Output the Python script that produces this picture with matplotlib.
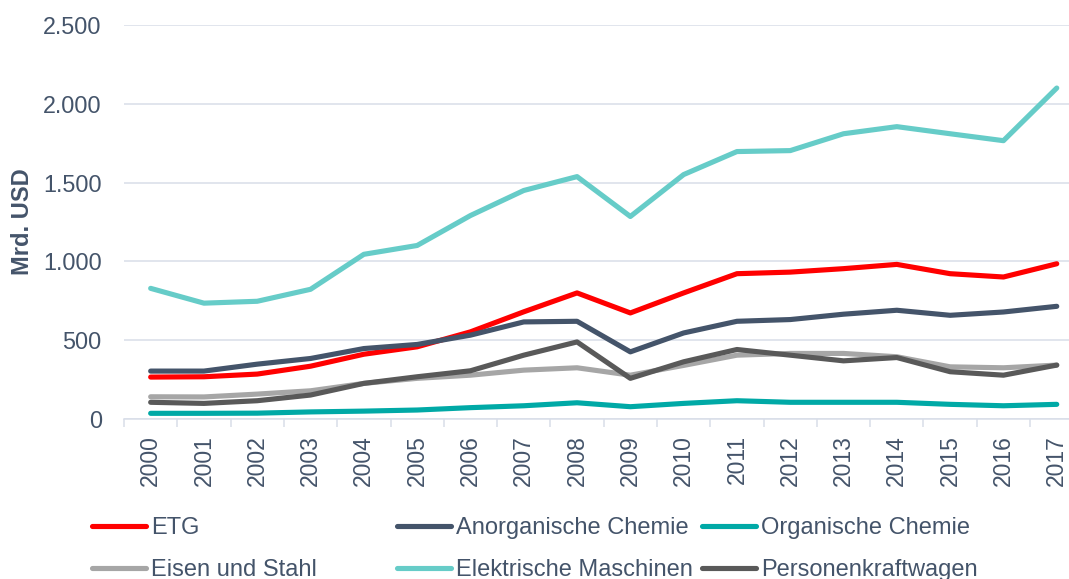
import matplotlib
matplotlib.use("Agg")
import matplotlib.pyplot as plt
from matplotlib.lines import Line2D
from matplotlib.ticker import FuncFormatter, FixedLocator

years = list(range(2000, 2018))
etg = [266, 268, 285, 335, 411, 458, 553, 680, 800, 673, 800, 922, 932, 954, 981, 922, 901, 985]
anorg = [304, 304, 348, 384, 447, 473, 532, 616, 620, 426, 546, 620, 631, 665, 690, 658, 679, 715]
organ = [36, 36, 37, 45, 50, 57, 72, 84, 103, 78, 99, 116, 106, 106, 106, 93, 84, 93]
eisen = [141, 140, 158, 179, 226, 258, 278, 310, 325, 278, 340, 405, 416, 416, 395, 331, 325, 342]
elektr = [829, 735, 747, 823, 1045, 1101, 1291, 1450, 1538, 1285, 1551, 1697, 1703, 1810, 1855, 1810, 1766, 2100]
pkw = [106, 99, 116, 152, 226, 268, 306, 405, 489, 258, 363, 441, 405, 369, 390, 300, 278, 342]

series_names = ["ETG", "Anorganische Chemie", "Organische Chemie",
                "Eisen und Stahl", "Elektrische Maschinen", "Personenkraftwagen"]
series_values = [etg, anorg, organ, eisen, elektr, pkw]
colors = ["#FF0000", "#44546A", "#00A9A6", "#A6A6A6", "#66CCC8", "#595959"]

text_color = "#44546A"
grid_color = "#D9DEE8"

plt.rcParams['font.family'] = ['Liberation Sans', 'DejaVu Sans']

W, H = 1069, 579
fig = plt.figure(figsize=(W / 100, H / 100), dpi=100)
ax = fig.add_axes([124 / W, 160 / H, 959.4 / W, 394 / H])

xs = list(range(len(years)))
for name, vals, c in zip(series_names, series_values, colors):
    ax.plot(xs, vals, color=c, lw=3.7, solid_capstyle='round',
            solid_joinstyle='round', label=name, clip_on=False)

ax.set_xlim(-0.5, len(years) - 0.5)
ax.set_ylim(0, 2500)
ax.set_yticks([0, 500, 1000, 1500, 2000, 2500])
ax.yaxis.set_major_formatter(FuncFormatter(lambda v, p: f"{int(v):,}".replace(",", ".")))
ax.grid(axis='y', color=grid_color, lw=1.1)
ax.set_axisbelow(True)

ax.set_xticks(xs)
ax.set_xticklabels([str(y) for y in years], rotation=90)
ax.xaxis.set_minor_locator(FixedLocator([i - 0.5 for i in range(len(years) + 1)]))
ax.tick_params(axis='x', which='major', length=0, pad=11.5, labelsize=16.5, labelcolor=text_color)
ax.tick_params(axis='x', which='minor', length=6, color=grid_color, width=1.1)
ax.tick_params(axis='y', length=0, pad=16, labelsize=16.8, labelcolor=text_color)

for s in ['top', 'right', 'left']:
    ax.spines[s].set_visible(False)
ax.spines['bottom'].set_color(grid_color)
ax.spines['bottom'].set_linewidth(1.1)

fig.text(23 / W, 1 - 222 / H, "Mrd. USD", rotation=90, ha='center', va='center',
         fontsize=17, fontweight='bold', color=text_color)

col_x = [92, 397, 702]
groups = [(0, 3), (1, 4), (2, 5)]
for cx, (a, b) in zip(col_x, groups):
    handles = [Line2D([], [], color=colors[i], lw=3.7, solid_capstyle='round') for i in (a, b)]
    labels = [series_names[a], series_names[b]]
    leg = fig.legend(handles, labels, loc='center left',
                     bbox_to_anchor=(cx / W, 1 - 549 / H),
                     frameon=False, fontsize=17, handlelength=2.3,
                     handletextpad=0.2, labelspacing=0.85, borderpad=0,
                     borderaxespad=0)
    for t in leg.get_texts():
        t.set_color(text_color)

fig.savefig("out.png", dpi=100)
